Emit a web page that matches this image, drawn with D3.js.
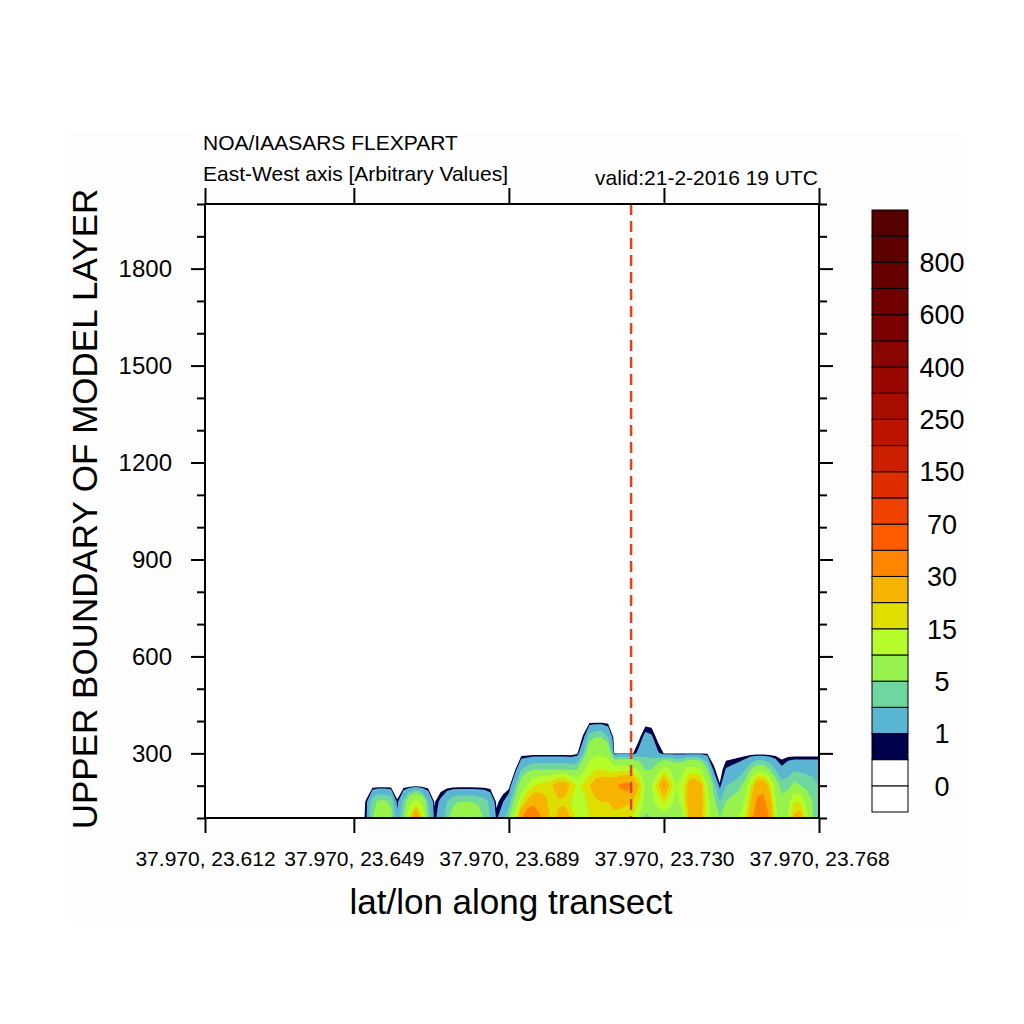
<!DOCTYPE html>
<html lang="en">

<head>
    <meta charset="UTF-8">
    <title>FLEXPART transect</title>
    <script src="https://d3js.org/d3.v7.min.js"></script>
    <style>
        body { margin: 0; background: #fff; }
        text { font-family: "Liberation Sans", Arial, Helvetica, sans-serif; fill: #000; }
    </style>
</head>

<body>
    <script>
        // model layer heights (rows of the grid)
        const heights = [100, 150, 200, 250, 300, 350, 400];

        // concentration per point along the transect (100 points), one array per layer
        const row100 = [0, 0, 0, 0, 0, 0, 0, 0, 0, 0,
            0, 0, 0, 0, 0, 0, 0, 0, 0, 0,
            0, 0, 0, 0, 0, 0, 0.7, 5, 7, 7,
            6, 1.5, 5, 16, 35, 17, 4, 0.7, 1.8, 4,
            6.5, 8, 10.5, 8.5, 7, 5, 3, 0.8, 2, 5,
            12, 30, 42, 45, 32, 24, 17, 22, 26, 20,
            13, 12, 15, 17, 16, 17, 18, 17, 16, 14,
            10, 4, 5, 6, 6, 6, 6, 8, 20, 28,
            22, 12, 8, 5, 7, 9, 10, 14, 25, 40,
            42, 30, 12, 5, 10, 22, 25, 12, 5, 4];
        const row150 = [0, 0, 0, 0, 0, 0, 0, 0, 0, 0,
            0, 0, 0, 0, 0, 0, 0, 0, 0, 0,
            0, 0, 0, 0, 0, 0, 0.6, 4, 5.5, 5.5,
            4.5, 0.6, 3.5, 8, 12, 8, 3, 0.4, 1.3, 3,
            4.5, 5, 5, 5, 4.5, 4, 2.5, 0.3, 0.9, 2,
            6, 14, 22, 26, 24, 21, 17, 19, 18, 15,
            12, 13, 17, 19, 20, 20, 22, 22, 21, 20,
            15, 7, 9, 12, 16, 12, 8, 12, 24, 28,
            23, 12, 6, 3, 5, 6, 6.5, 10, 20, 32,
            33, 25, 10, 6, 8, 15, 15, 8, 5, 4];
        const row200 = [0, 0, 0, 0, 0, 0, 0, 0, 0, 0,
            0, 0, 0, 0, 0, 0, 0, 0, 0, 0,
            0, 0, 0, 0, 0, 0, 0, 0, 0, 0,
            0, 0, 0, 0, 0, 0, 0, 0, 0, 0,
            0, 0, 0, 0, 0, 0, 0, 0, 0, 0.1,
            3, 7, 11, 15, 17, 18, 20, 25, 25, 19,
            14, 16, 20, 24, 26, 27, 28, 32, 35, 30,
            20, 9, 10, 18, 32, 18, 10, 12, 24, 27,
            22, 10, 4, 0.6, 3, 3.5, 4, 6, 15, 26,
            27, 18, 7, 4, 4, 6, 5, 4, 3.5, 3];
        const row250 = [0, 0, 0, 0, 0, 0, 0, 0, 0, 0,
            0, 0, 0, 0, 0, 0, 0, 0, 0, 0,
            0, 0, 0, 0, 0, 0, 0, 0, 0, 0,
            0, 0, 0, 0, 0, 0, 0, 0, 0, 0,
            0, 0, 0, 0, 0, 0, 0, 0, 0, 0,
            0.4, 3, 4, 5, 5, 5, 5, 5, 5, 4.5,
            5, 9, 12, 15, 15, 14, 12, 13, 13, 12,
            9, 4.8, 5, 8, 12, 10, 8, 9, 12, 12,
            10, 5, 0.7, 0, 1.1, 1.4, 1.8, 2.8, 5, 7,
            7, 5, 3, 1.3, 2.2, 2.6, 2.6, 2.6, 2.6, 2.6];
        const row300 = [0, 0, 0, 0, 0, 0, 0, 0, 0, 0,
            0, 0, 0, 0, 0, 0, 0, 0, 0, 0,
            0, 0, 0, 0, 0, 0, 0, 0, 0, 0,
            0, 0, 0, 0, 0, 0, 0, 0, 0, 0,
            0, 0, 0, 0, 0, 0, 0, 0, 0, 0,
            0, 0, 0, 0, 0, 0, 0, 0, 0, 0,
            0.3, 3, 8, 9, 9, 8, 0.45, 0.45, 0.45, 0.45,
            1.5, 2.5, 2.2, 1.2, 0.45, 0.45, 0.45, 0.45, 0.45, 0.45,
            0.45, 0.4, 0, 0, 0, 0, 0, 0, 0, 0,
            0, 0, 0, 0, 0, 0, 0, 0, 0, 0];
        const row350 = [0, 0, 0, 0, 0, 0, 0, 0, 0, 0,
            0, 0, 0, 0, 0, 0, 0, 0, 0, 0,
            0, 0, 0, 0, 0, 0, 0, 0, 0, 0,
            0, 0, 0, 0, 0, 0, 0, 0, 0, 0,
            0, 0, 0, 0, 0, 0, 0, 0, 0, 0,
            0, 0, 0, 0, 0, 0, 0, 0, 0, 0,
            0, 0.6, 4, 5, 5, 3, 0, 0, 0, 0,
            0.3, 1.5, 1.2, 0.2, 0, 0, 0, 0, 0, 0,
            0, 0, 0, 0, 0, 0, 0, 0, 0, 0,
            0, 0, 0, 0, 0, 0, 0, 0, 0, 0];
        const row400 = [0, 0, 0, 0, 0, 0, 0, 0, 0, 0,
            0, 0, 0, 0, 0, 0, 0, 0, 0, 0,
            0, 0, 0, 0, 0, 0, 0, 0, 0, 0,
            0, 0, 0, 0, 0, 0, 0, 0, 0, 0,
            0, 0, 0, 0, 0, 0, 0, 0, 0, 0,
            0, 0, 0, 0, 0, 0, 0, 0, 0, 0,
            0, 0, 0, 0, 0, 0, 0, 0, 0, 0,
            0, 0, 0, 0, 0, 0, 0, 0, 0, 0,
            0, 0, 0, 0, 0, 0, 0, 0, 0, 0,
            0, 0, 0, 0, 0, 0, 0, 0, 0, 0];

        // contour levels and the colour of each box (below first level ... above last)
        const levels = [0, 0.5, 1, 3, 5, 10, 15, 20, 30, 50, 70, 100, 150, 200, 250, 300, 400, 500, 600, 700, 800, 900];
        const levelColors = ["#ffffff", "#ffffff", "#00004a", "#5ab5d3", "#6fd6a0", "#98f24e", "#b6fc2a",
            "#dedf00", "#f6b300", "#ff8500", "#ff5b00", "#ef4100", "#de2e00", "#cc1f00", "#bb1400",
            "#a80d00", "#980800", "#8a0400", "#7c0000", "#700000", "#660000", "#5e0000", "#560000"];

        const xTickIndex = [0, 24, 49, 74, 99];
        const xTickLabels = ["37.970, 23.612", "37.970, 23.649", "37.970, 23.689", "37.970, 23.730", "37.970, 23.768"];
        const yDomain = [100, 2000];
        const yTicks = [300, 600, 900, 1200, 1500, 1800];
        const yMinor = [100, 200, 400, 500, 700, 800, 1000, 1100, 1300, 1400, 1600, 1700, 1900, 2000];
        const markerIndex = 68.7;

        const width = 1024;
        const height = 1024;
        const plot = { left: 205, right: 819, top: 204, bottom: 818 };

        const svg = d3.select("body").append("svg")
            .attr("width", width)
            .attr("height", height);

        svg.append("rect")
            .attr("x", 67).attr("y", 133)
            .attr("width", 895).attr("height", 789)
            .attr("fill", "#fdfdfd");
        svg.append("rect")
            .attr("x", plot.left).attr("y", plot.top)
            .attr("width", plot.right - plot.left).attr("height", plot.bottom - plot.top)
            .attr("fill", "#fff");

        const rows = [row100, row150, row200, row250, row300, row350, row400];
        const nPoints = row100.length;

        const x = d3.scaleLinear().domain([0, nPoints - 1]).range([plot.left, plot.right]);
        const y = d3.scaleLinear().domain(yDomain).range([plot.bottom, plot.top]);

        svg.append("defs").append("clipPath").attr("id", "plotclip")
            .append("rect")
            .attr("x", plot.left).attr("y", plot.top)
            .attr("width", plot.right - plot.left).attr("height", plot.bottom - plot.top);

        // filled contours
        const grid = [].concat(...rows);
        const contours = d3.contours()
            .size([nPoints, rows.length])
            .thresholds(levels.slice(1))(grid);

        const dz = heights[1] - heights[0];
        const gridToPlot = d3.geoTransform({
            point: function (cx, cy) {
                this.stream.point(x(cx - 0.5), y(heights[0] + (cy - 0.5) * dz));
            }
        });
        const path = d3.geoPath(gridToPlot);

        svg.append("g")
            .attr("clip-path", "url(#plotclip)")
            .selectAll("path")
            .data(contours)
            .enter().append("path")
            .attr("d", path)
            .attr("fill", d => levelColors[levels.indexOf(d.value) + 1]);

        // marker line
        svg.append("line")
            .attr("x1", x(markerIndex)).attr("x2", x(markerIndex))
            .attr("y1", plot.top).attr("y2", plot.bottom)
            .attr("stroke", "#e5401c")
            .attr("stroke-width", 2.5)
            .attr("stroke-dasharray", "11,6");

        function styleAxis(g, size) {
            g.select(".domain").remove();
            g.selectAll("line").attr("stroke", "#000").attr("stroke-width", 2);
            g.selectAll("text")
                .style("font-family", '"Liberation Sans", Arial, sans-serif')
                .style("font-size", size + "px")
                .attr("fill", "#000");
        }

        svg.append("g").attr("transform", `translate(${plot.left},0)`)
            .call(d3.axisLeft(y).tickValues(yTicks).tickSize(14).tickPadding(19).tickFormat(d3.format("d")))
            .call(g => styleAxis(g, 24));
        svg.append("g").attr("transform", `translate(${plot.left},0)`)
            .call(d3.axisLeft(y).tickValues(yMinor).tickSize(8).tickFormat(""))
            .call(g => styleAxis(g, 10));
        svg.append("g").attr("transform", `translate(${plot.right},0)`)
            .call(d3.axisRight(y).tickValues(yTicks).tickSize(14).tickFormat(""))
            .call(g => styleAxis(g, 10));
        svg.append("g").attr("transform", `translate(${plot.right},0)`)
            .call(d3.axisRight(y).tickValues(yMinor).tickSize(8).tickFormat(""))
            .call(g => styleAxis(g, 10));
        svg.append("g").attr("transform", `translate(0,${plot.bottom})`)
            .call(d3.axisBottom(x).tickValues(xTickIndex).tickSize(15).tickPadding(18)
                .tickFormat((d, i) => xTickLabels[i]))
            .call(g => styleAxis(g, 21));
        svg.append("g").attr("transform", `translate(0,${plot.top})`)
            .call(d3.axisTop(x).tickValues(xTickIndex).tickSize(16).tickFormat(""))
            .call(g => styleAxis(g, 10));

        svg.append("rect")
            .attr("x", plot.left).attr("y", plot.top)
            .attr("width", plot.right - plot.left).attr("height", plot.bottom - plot.top)
            .attr("fill", "none").attr("stroke", "#000").attr("stroke-width", 2);

        // titles
        svg.append("text").attr("x", 203).attr("y", 150)
            .style("font-size", "21px").text("NOA/IAASARS FLEXPART");
        svg.append("text").attr("x", 203).attr("y", 181)
            .style("font-size", "21px").text("East-West axis [Arbitrary Values]");
        svg.append("text").attr("x", 818).attr("y", 185).attr("text-anchor", "end")
            .style("font-size", "21px").text("valid:21-2-2016 19 UTC");

        svg.append("text").attr("x", 511).attr("y", 914).attr("text-anchor", "middle")
            .style("font-size", "35px").text("lat/lon along transect");
        svg.append("text").attr("transform", "translate(97,509) rotate(-90)")
            .attr("text-anchor", "middle")
            .style("font-size", "35px").text("UPPER BOUNDARY OF MODEL LAYER");

        // colour bar
        const cb = { x: 872, w: 36, top: 210, bottom: 812 };
        const cbScale = d3.scaleBand()
            .domain(d3.range(levelColors.length))
            .range([cb.bottom, cb.top]);

        const bar = svg.append("g");
        bar.selectAll("rect")
            .data(levelColors)
            .enter().append("rect")
            .attr("x", cb.x)
            .attr("y", (d, i) => cbScale(i))
            .attr("width", cb.w)
            .attr("height", cbScale.bandwidth())
            .attr("fill", d => d)
            .attr("stroke", "#000")
            .attr("stroke-width", 1);

        bar.selectAll("text")
            .data(levels.map((v, i) => ({ v: v, i: i })).filter(d => d.i % 2 === 0))
            .enter().append("text")
            .attr("x", 942)
            .attr("y", d => cbScale(d.i))
            .attr("dy", "0.36em")
            .attr("text-anchor", "middle")
            .style("font-size", "27px")
            .text(d => d.v);
    </script>
</body>

</html>
